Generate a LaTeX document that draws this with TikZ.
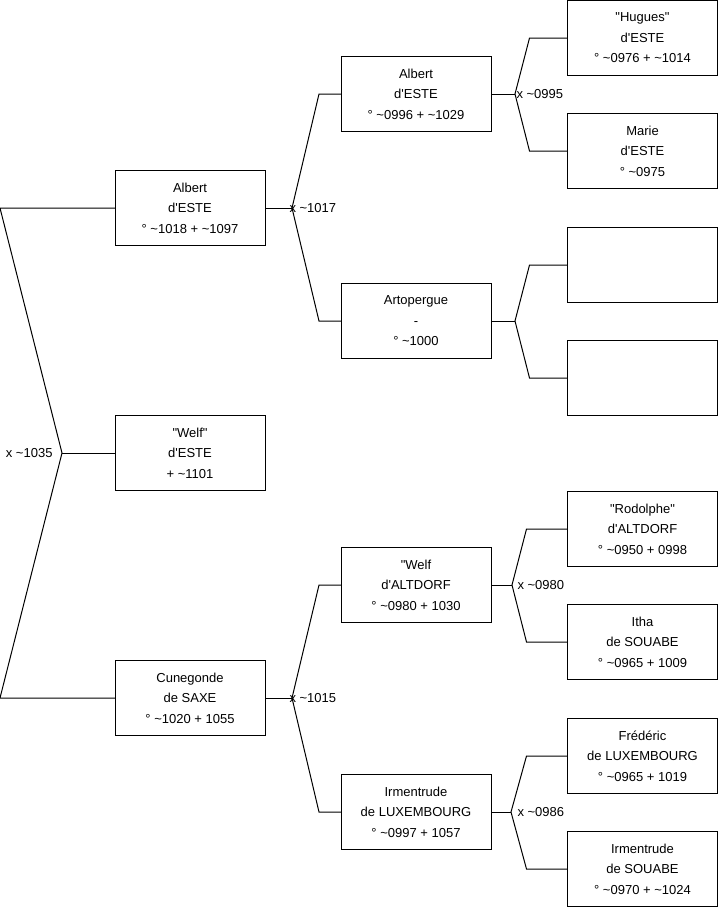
\documentclass[tikz,border=0pt]{standalone}
\usepackage{fontspec}
\setmainfont{Liberation Sans}[Ligatures=TeXOff]
\newcommand{\abt}{\textasciitilde}
\tikzset{
  person/.style={draw, minimum width=150pt, minimum height=75pt, inner sep=0pt,
                 outer sep=0pt, align=center, font=\fontsize{13}{20.5}\selectfont},
  union/.style={anchor=west, inner sep=0pt, font=\fontsize{13}{16}\selectfont},
}
\begin{document}
\begin{tikzpicture}[x=1pt, y=-1pt, line width=1pt]
    \useasboundingbox (0,0) rectangle (719,908);

    % ── Generation 1 ─────────────────────────────────────────────────
    \node[person] (albertA)   at (190,208) {Albert\\d'ESTE\\° \abt1018 + \abt1097};
    \node[person] (welf)      at (190,453) {"Welf"\\d'ESTE\\+ \abt1101};
    \node[person] (cunegonde) at (190,698) {Cunegonde\\de SAXE\\° \abt1020 + 1055};

    % ── Generation 2 ─────────────────────────────────────────────────
    \node[person] (albertB)     at (416, 94) {Albert\\d'ESTE\\° \abt0996 + \abt1029};
    \node[person] (artopergue)  at (416,321) {Artopergue\\-\\° \abt1000};
    \node[person] (welfA)       at (416,585) {"Welf\\d'ALTDORF\\° \abt0980 + 1030};
    \node[person] (irmentrudeL) at (416,812) {Irmentrude\\de LUXEMBOURG\\° \abt0997 + 1057};

    % ── Generation 3 ─────────────────────────────────────────────────
    \node[person] (hugues)      at (642.5, 38) {"Hugues"\\d'ESTE\\° \abt0976 + \abt1014};
    \node[person] (marie)       at (642.5,151) {Marie\\d'ESTE\\° \abt0975};
    \node[person] (blankA)      at (642.5,265) {};
    \node[person] (blankB)      at (642.5,378) {};
    \node[person] (rodolphe)    at (642.5,529) {"Rodolphe"\\d'ALTDORF\\° \abt0950 + 0998};
    \node[person] (itha)        at (642.5,642) {Itha\\de SOUABE\\° \abt0965 + 1009};
    \node[person] (frederic)    at (642.5,756) {Frédéric\\de LUXEMBOURG\\° \abt0965 + 1019};
    \node[person] (irmentrudeS) at (642.5,869) {Irmentrude\\de SOUABE\\° \abt0970 + \abt1024};

    % ── Unions ───────────────────────────────────────────────────────
    \coordinate (u0) at (62,453);
    \coordinate (u1) at ([xshift=27pt]albertA.east);
    \coordinate (u2) at ([xshift=27pt]cunegonde.east);
    \coordinate (u3) at ([xshift=24pt]albertB.east);
    \coordinate (u4) at ([xshift=24pt]artopergue.east);
    \coordinate (u5) at ([xshift=21pt]welfA.east);
    \coordinate (u6) at ([xshift=20pt]irmentrudeL.east);

    \node[union, anchor=east] (l0) at ([xshift=-9pt]u0) {x \abt1035};
    \node[union] (l1) at ([xshift=-3pt]u1) {x \abt1017};
    \node[union] (l2) at ([xshift=-3pt]u2) {x \abt1015};
    \node[union] (l3) at ([xshift=1pt]u3)  {x \abt0995};
    \node[union] (l5) at ([xshift=5pt]u5)  {x \abt0980};
    \node[union] (l6) at ([xshift=6pt]u6)  {x \abt0986};

    % ── Links ────────────────────────────────────────────────────────
    \draw (welf.west) -- (u0);
    \draw (albertA.west) -- ([xshift=-115pt]albertA.west) -- (u0)
          -- ([xshift=-115pt]cunegonde.west) -- (cunegonde.west);

    \draw (albertA.east) -- (u1);
    \draw (albertB.west) -- ([xshift=-22pt]albertB.west) -- (u1)
          -- ([xshift=-22pt]artopergue.west) -- (artopergue.west);
    \draw (cunegonde.east) -- (u2);
    \draw (welfA.west) -- ([xshift=-22pt]welfA.west) -- (u2)
          -- ([xshift=-22pt]irmentrudeL.west) -- (irmentrudeL.west);

    \draw (albertB.east) -- (u3);
    \draw (hugues.west) -- ([xshift=-38pt]hugues.west) -- (u3)
          -- ([xshift=-38pt]marie.west) -- (marie.west);
    \draw (artopergue.east) -- (u4);
    \draw (blankA.west) -- ([xshift=-38pt]blankA.west) -- (u4)
          -- ([xshift=-38pt]blankB.west) -- (blankB.west);
    \draw (welfA.east) -- (u5);
    \draw (rodolphe.west) -- ([xshift=-41pt]rodolphe.west) -- (u5)
          -- ([xshift=-41pt]itha.west) -- (itha.west);
    \draw (irmentrudeL.east) -- (u6);
    \draw (frederic.west) -- ([xshift=-41pt]frederic.west) -- (u6)
          -- ([xshift=-41pt]irmentrudeS.west) -- (irmentrudeS.west);
\end{tikzpicture}
\end{document}
